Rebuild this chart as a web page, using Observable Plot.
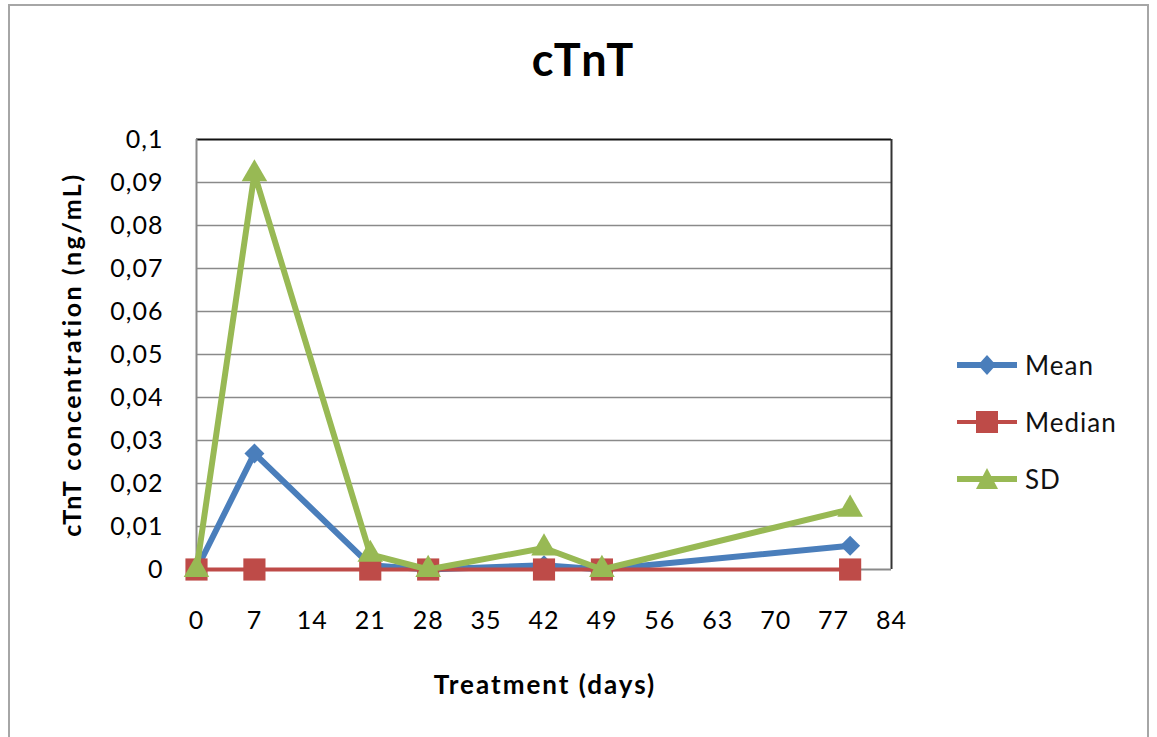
<!DOCTYPE html>
<html>
<head>
<meta charset="utf-8">
<script src="https://cdn.jsdelivr.net/npm/d3@7"></script>
<script src="https://cdn.jsdelivr.net/npm/@observablehq/plot@0.6"></script>
<style>
  html, body { margin: 0; padding: 0; background: #fff; }
  #wrap { position: relative; width: 1157px; height: 737px; overflow: hidden; font-family: Lato, sans-serif; }
  #border { position: absolute; left: 8px; top: 4px; width: 1141px; height: 760px; border: 2px solid #a6a6a6; box-sizing: border-box; }
  #chart { position: absolute; left: 0; top: 0; }
  #chart svg g[aria-label="x-axis tick label"] text,
  #chart svg g[aria-label="y-axis tick label"] text { letter-spacing: 1px; }
  .leg { position: absolute; left: 955px; height: 30px; display: flex; align-items: center; font-size: 26px; letter-spacing: 1px; color: #111; }
  .leg svg { margin-right: 6px; }
</style>
</head>
<body>
<div id="wrap">
  <div id="border"></div>
  <div id="chart"></div>
  <div id="legend"></div>
</div>
<script>
// ---- data ----
const days   = [0, 7, 21, 28, 42, 49, 79];
const mean   = [0, 0.027, 0.001, 0, 0.001, 0, 0.0055];
const median = [0, 0, 0, 0, 0, 0, 0];
const sd     = [0, 0.092, 0.0035, 0, 0.005, 0, 0.014];
const seriesNames = ["Mean", "Median", "SD"];
const xTicks = [0, 7, 14, 21, 28, 35, 42, 49, 56, 63, 70, 77, 84];
const yTicks = [0, 0.01, 0.02, 0.03, 0.04, 0.05, 0.06, 0.07, 0.08, 0.09, 0.1];
const titleText = "cTnT";
const xLabel = "Treatment (days)";
const yLabel = "cTnT concentration (ng/mL)";

// ---- styles ----
const colors = {Mean: "#4a7ebb", Median: "#be4b48", SD: "#98b954"};
const symbols = {Mean: "diamond2", Median: "square", SD: "triangle"};
const radii = {Mean: 9, Median: 12.5, SD: 9.5};
const widths = {Mean: 6, Median: 4, SD: 6};

const valuesBy = {Mean: mean, Median: median, SD: sd};
const data = seriesNames.flatMap(s => days.map((d, i) => ({series: s, day: d, value: valuesBy[s][i]})));

const fmt = v => v === 0 ? "0" : String(+v.toFixed(2)).replace(".", ",");

const marks = [
  Plot.ruleY(yTicks.filter(v => v > 0 && v < 0.1), {stroke: "#8a8a8a", strokeWidth: 1.6}),
  Plot.ruleY([0.1], {stroke: "#111", strokeWidth: 2}),
  Plot.ruleX([84], {stroke: "#333", strokeWidth: 2}),
  Plot.ruleX([0], {stroke: "#8a8a8a", strokeWidth: 2}),
  Plot.ruleY([0], {stroke: "#8a8a8a", strokeWidth: 2}),
  Plot.axisX({ticks: xTicks, tickSize: 0, tickPadding: 42, label: null, fontSize: 25}),
  Plot.axisY({ticks: yTicks, tickSize: 0, tickPadding: 33, tickFormat: fmt, label: null, fontSize: 25}),
];
for (const s of seriesNames) {
  const rows = data.filter(d => d.series === s);
  marks.push(Plot.line(rows, {x: "day", y: "value", stroke: colors[s], strokeWidth: widths[s], strokeLinejoin: "miter"}));
  marks.push(Plot.dot(rows, {x: "day", y: "value", symbol: () => symbols[s], fill: colors[s], r: radii[s], stroke: "none"}));
}
marks.push(
  Plot.text([titleText], {frameAnchor: "top", textAnchor: "middle", dx: 41, dy: -78, lineAnchor: "middle", fontSize: 45, fontWeight: "bold", fill: "#000", style: {letterSpacing: "5px"}}),
  Plot.text([xLabel], {frameAnchor: "bottom", textAnchor: "middle", dx: 1, dy: 116, lineAnchor: "middle", fontSize: 26, fontWeight: "bold", fill: "#000"}),
  Plot.text([yLabel], {frameAnchor: "left", textAnchor: "middle", dx: -124, rotate: -90, lineAnchor: "middle", fontSize: 25, fontWeight: "bold", fill: "#000"})
);

const chart = Plot.plot({
  width: 1157, height: 737,
  marginLeft: 196, marginRight: 266, marginTop: 139, marginBottom: 168,
  x: {domain: [0, 84]},
  y: {domain: [0, 0.1]},
  symbol: {type: "identity"},
  style: {fontFamily: "Lato, sans-serif", fontSize: "25px", color: "#000", background: "transparent", overflow: "visible"},
  marks
});
document.getElementById("chart").appendChild(chart);

// letter spacing for the text labels
const texts = chart.querySelectorAll("text");
texts.forEach(t => {
  const s = t.textContent;
  if (s === titleText) t.setAttribute("letter-spacing", "5");
  if (s === xLabel) t.setAttribute("letter-spacing", "2");
  if (s === yLabel) t.setAttribute("letter-spacing", "2.5");
});

// ---- legend ----
const legendTops = {Mean: 350, Median: 407, SD: 464};
const legend = document.getElementById("legend");
for (const s of seriesNames) {
  const div = document.createElement("div");
  div.className = "leg";
  div.style.top = legendTops[s] + "px";
  const c = colors[s];
  let marker;
  if (s === "Mean") marker = `<path d="M32,5 L41,15 L32,25 L23,15 Z" fill="${c}"/>`;
  else if (s === "Median") marker = `<rect x="21" y="4" width="22" height="22" fill="${c}"/>`;
  else marker = `<path d="M32,4 L43,25 L21,25 Z" fill="${c}"/>`;
  div.innerHTML = `<svg width="64" height="30"><line x1="2" x2="62" y1="15" y2="15" stroke="${c}" stroke-width="${widths[s]}"/>${marker}</svg><span>${s}</span>`;
  legend.appendChild(div);
}
</script>
</body>
</html>
